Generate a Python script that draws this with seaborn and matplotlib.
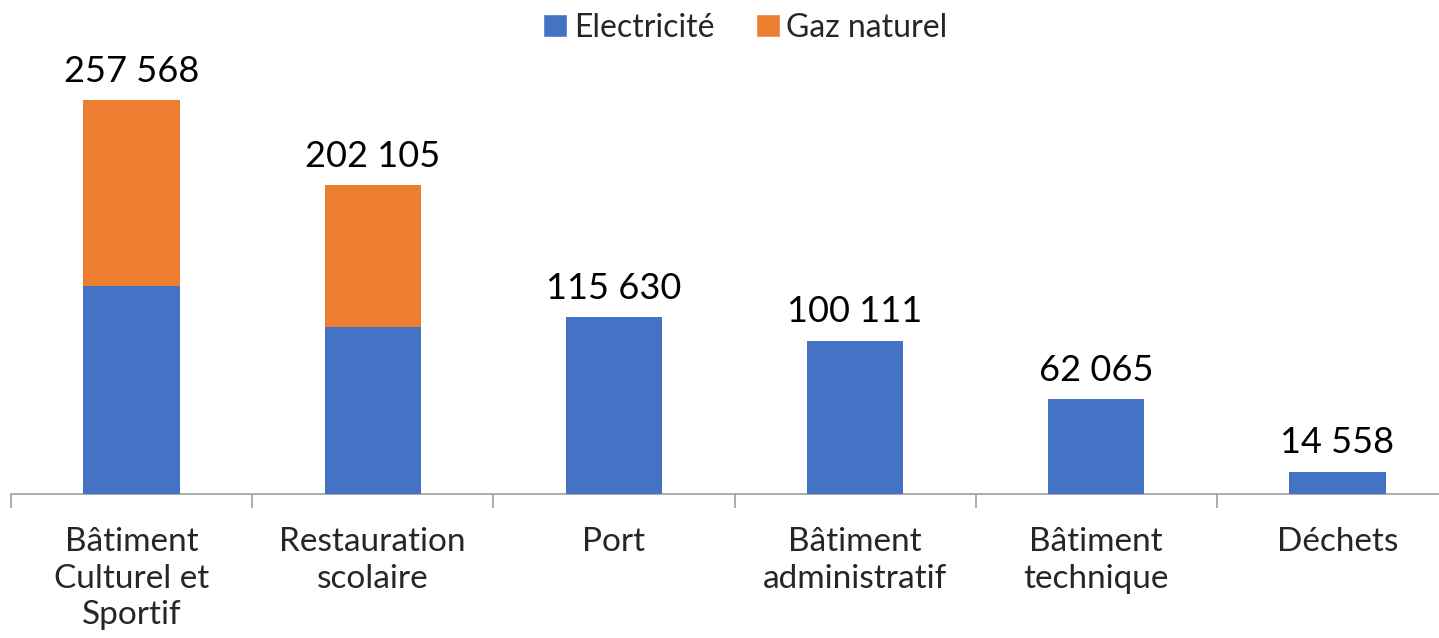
import matplotlib
matplotlib.use("Agg")
import matplotlib.pyplot as plt
import seaborn as sns
import pandas as pd
from matplotlib.patches import Patch

categories = ["Bâtiment\nCulturel et\nSportif", "Restauration\nscolaire", "Port",
              "Bâtiment\nadministratif", "Bâtiment\ntechnique", "Déchets"]
electricite = [136000, 109200, 115630, 100111, 62065, 14558]
gaz_naturel = [121568, 92905, 0, 0, 0, 0]
totals = [257568, 202105, 115630, 100111, 62065, 14558]
series_names = ["Electricité", "Gaz naturel"]

BLUE = "#4472C4"
ORANGE = "#ED7D31"

sns.set_style("white")
plt.rcParams['font.family'] = ['Lato', 'DejaVu Sans']

df = pd.DataFrame({"cat": categories, "elec": electricite, "gaz": gaz_naturel, "total": totals})

fig = plt.figure(figsize=(14.39, 6.38), dpi=100)
ax = fig.add_axes([11/1439, (638-494)/638, 1447/1439, 428/638])

sns.barplot(data=df, x="cat", y="total", color=ORANGE, width=0.4, saturation=1, ax=ax,
            zorder=2, linewidth=0, edgecolor="none")
sns.barplot(data=df, x="cat", y="elec", color=BLUE, width=0.4, saturation=1, ax=ax,
            zorder=3, linewidth=0, edgecolor="none")

labels = [f"{v:,}".replace(",", " ") for v in totals]
ax.bar_label(ax.containers[0], labels=labels, padding=9, fontsize=26, color="black")

ax.set_ylim(0, 280000)
ax.set_xlim(-0.5, len(categories) - 0.5)
ax.set_xlabel("")
ax.set_ylabel("")
ax.set_yticks([])
for s in ["top", "right", "left"]:
    ax.spines[s].set_visible(False)
ax.spines["bottom"].set_color("#A6A6A6")
ax.spines["bottom"].set_linewidth(1.3)

ax.set_xticks(range(len(categories)))
ax.set_xticklabels(categories, fontsize=24, linespacing=1.27)
ax.tick_params(axis="x", which="major", length=0, pad=24)
ax.set_xticks([i - 0.5 for i in range(len(categories) + 1)], minor=True)
ax.tick_params(axis="x", which="minor", length=10, width=1.3, color="#A6A6A6", direction="out", bottom=True)

handles = [Patch(facecolor=BLUE), Patch(facecolor=ORANGE)]
fig.legend(handles, series_names, loc="upper center", bbox_to_anchor=(0.518, 1.025), ncol=2,
           frameon=False, fontsize=23, handlelength=0.75, handleheight=0.75,
           handletextpad=0.2, columnspacing=1.3)

fig.savefig("out.png", dpi=100)
